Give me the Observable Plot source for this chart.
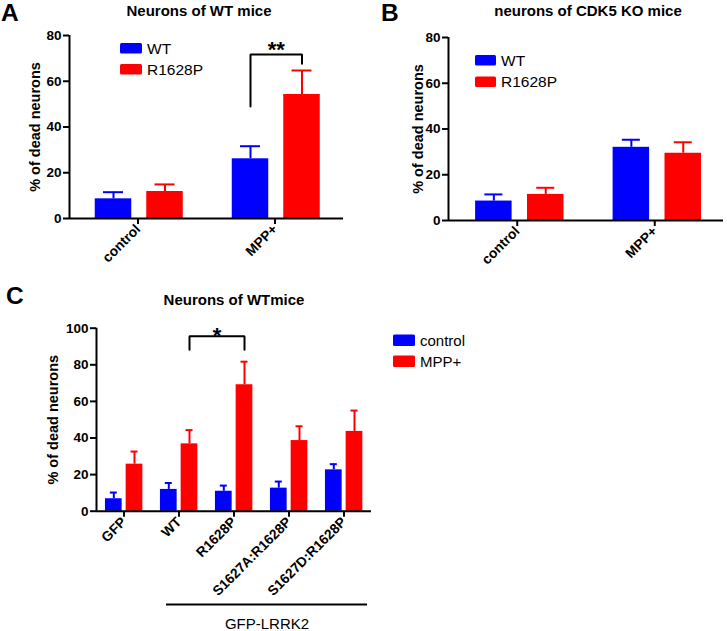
<!DOCTYPE html>
<html><head><meta charset="utf-8">
<script src="https://cdn.jsdelivr.net/npm/d3@7"></script>
<script src="https://cdn.jsdelivr.net/npm/@observablehq/plot@0.6"></script>
<style>
body{margin:0;background:#fff;}
#root{position:relative;width:727px;height:631px;overflow:hidden;background:#fff;font-family:"Liberation Sans",Arial,sans-serif;}
.panel{position:absolute;}
.panel svg{overflow:visible;display:block;}
#overlay{position:absolute;left:0;top:0;pointer-events:none;}
</style></head><body><div id="root"></div>
<script>
const BLUE = "#0000ff", RED = "#ff0000";

// ---- Panel A: Neurons of WT mice
const groupsA = ["control", "MPP+"];
const seriesA = ["WT", "R1628P"];
const meanA_WT = [8.6, 26.1];
const semA_WT  = [2.9, 5.5];
const meanA_R  = [11.8, 54.2];
const semA_R   = [3.1, 10.5];
const sigA = {from: ["MPP+", "WT"], to: ["MPP+", "R1628P"], yTop: 71.7, yFrom: 49.0, yTo: 67.6, label: "**", labelY: 73.8};

// ---- Panel B: neurons of CDK5 KO mice
const groupsB = ["control", "MPP+"];
const seriesB = ["WT", "R1628P"];
const meanB_WT = [8.5, 32.0];
const semB_WT  = [2.9, 3.3];
const meanB_R  = [11.4, 29.4];
const semB_R   = [2.9, 4.8];

// ---- Panel C: Neurons of WTmice
const groupsC = ["GFP", "WT", "R1628P", "S1627A:R1628P", "S1627D:R1628P"];
const seriesC = ["control", "MPP+"];
const meanC_ctrl = [6.8, 11.9, 10.9, 12.6, 22.6];
const semC_ctrl  = [3.4, 3.5, 3.1, 3.6, 3.1];
const meanC_mpp  = [25.7, 36.8, 69.1, 38.6, 43.6];
const semC_mpp   = [6.9, 7.5, 12.6, 7.8, 11.4];
const sigC = {from: ["WT", "MPP+"], to: ["R1628P", "MPP+"], yTop: 95.6, yFrom: 88.2, yTo: 88.2, label: "*", labelY: 95.6};
const spanC = {from: "WT", to: "S1627D:R1628P", label: "GFP-LRRK2"};

const yTicksAB = [0, 20, 40, 60, 80];
const yTicksC  = [0, 20, 40, 60, 80, 100];
const yLabel = "% of dead neurons";

const FONT = "'Liberation Sans', Arial, sans-serif";

function makePanel(cfg) {
  const n = cfg.groups.length;
  const step = (cfg.width - cfg.ml - cfg.mr) / n;
  const u = px => px / step;
  const marks = [];
  const centerOf = (g, s) => cfg.groups.indexOf(g) + u(cfg.centers[cfg.series.indexOf(s)]);
  cfg.series.forEach((s, k) => {
    const rows = cfg.groups.map((g, i) => ({i, g, mean: cfg.means[k][i], sem: cfg.sems[k][i]}));
    const cx = d => d.i + u(cfg.centers[k]);
    marks.push(
      Plot.rectY(rows, {x1: d => cx(d) - u(cfg.barW / 2), x2: d => cx(d) + u(cfg.barW / 2), y1: 0, y2: "mean", fill: cfg.colors[k]}),
      Plot.ruleX(rows, {x: cx, y1: "mean", y2: d => d.mean + d.sem, stroke: cfg.colors[k], strokeWidth: 2}),
      Plot.ruleY(rows, {y: d => d.mean + d.sem, x1: d => cx(d) - u(cfg.capW / 2), x2: d => cx(d) + u(cfg.capW / 2), stroke: cfg.colors[k], strokeWidth: 2})
    );
  });
  // axis lines
  marks.push(
    Plot.ruleY([0], {strokeWidth: 2}),
    Plot.ruleX([-0.5], {y1: 0, y2: cfg.yMax, strokeWidth: 2}),
    Plot.axisY({ticks: cfg.yTicks, tickSize: 6, tickPadding: 2, strokeWidth: 2, fontWeight: "bold", fontSize: 13.5, label: null}),
    Plot.axisX({ticks: d3.range(n), tickFormat: i => cfg.groups[i], tickSize: 6, tickPadding: 2.5, tickRotate: -45, strokeWidth: 2, fontWeight: "bold", fontSize: 13.8, label: null}),
    Plot.text([yLabel], {frameAnchor: "left", textAnchor: "middle", rotate: -90, dx: cfg.labelDx, fontWeight: "bold", fontSize: 14.5, text: d => d})
  );
  if (cfg.sig) {
    const b = cfg.sig;
    const xl = centerOf(b.from[0], b.from[1]);
    const xr = centerOf(b.to[0], b.to[1]);
    const pts = [{x: xl, y: b.yFrom}, {x: xl, y: b.yTop}, {x: xr, y: b.yTop}, {x: xr, y: b.yTo}];
    marks.push(
      Plot.line(pts, {x: "x", y: "y", stroke: "black", strokeWidth: 2, strokeLinejoin: "miter"}),
      Plot.text([b], {x: (xl + xr) / 2, y: "labelY", text: "label", fontSize: 22, fontWeight: "bold"})
    );
  }
  if (cfg.span) {
    const sp = cfg.span;
    const x1 = cfg.groups.indexOf(sp.from) - 0.5 + u(15);
    const x2 = cfg.groups.indexOf(sp.to) + 0.5 - u(4);
    marks.push(
      Plot.ruleY([sp], {y: 0, dy: 93.3, x1: () => x1, x2: () => x2, strokeWidth: 2.2}),
      Plot.text([sp], {x: () => (x1 + x2) / 2, y: 0, dy: 112.5, text: "label", fontSize: 15})
    );
  }
  const chart = Plot.plot({
    width: cfg.width, height: cfg.height,
    marginLeft: cfg.ml, marginRight: cfg.mr, marginTop: cfg.mt, marginBottom: cfg.mb,
    x: {domain: [-0.5, n - 0.5]},
    y: {domain: [0, cfg.yMax]},
    style: {fontFamily: FONT, color: "black", background: "transparent", overflow: "visible"},
    marks
  });
  const div = document.createElement("div");
  div.className = "panel";
  div.style.left = cfg.left + "px";
  div.style.top = cfg.top + "px";
  div.style.width = cfg.width + "px";
  div.style.height = cfg.height + "px";
  div.appendChild(chart);
  document.getElementById("root").appendChild(div);
}

makePanel({
  left: 0, top: 0, width: 360, height: 270, ml: 69, mr: 17, mt: 35, mb: 52,
  groups: groupsA, series: seriesA, means: [meanA_WT, meanA_R], sems: [semA_WT, semA_R],
  colors: [BLUE, RED], centers: [-24.5, 27], barW: 36.5, capW: 20,
  yMax: 80, yTicks: yTicksAB, labelDx: -34, sig: sigA
});
makePanel({
  left: 360, top: 0, width: 367, height: 270, ml: 88, mr: 4, mt: 37, mb: 50,
  groups: groupsB, series: seriesB, means: [meanB_WT, meanB_R], sems: [semB_WT, semB_R],
  colors: [BLUE, RED], centers: [-23.4, 28.5], barW: 36.5, capW: 18,
  yMax: 80, yTicks: yTicksAB, labelDx: -30.5
});
makePanel({
  left: 0, top: 270, width: 390, height: 361, ml: 96, mr: 19, mt: 57.7, mb: 120.3,
  groups: groupsC, series: seriesC, means: [meanC_ctrl, meanC_mpp], sems: [semC_ctrl, semC_mpp],
  colors: [BLUE, RED], centers: [-10.2, 10.5], barW: 16.7, capW: 7,
  yMax: 100, yTicks: yTicksC, labelDx: -43, sig: sigC, span: spanC
});

// ---- overlay: panel letters, titles, legends
const ov = d3.select("#root").append("svg").attr("id", "overlay")
  .attr("width", 727).attr("height", 631).style("font-family", FONT);
const letters = [["A", 1, 21], ["B", 381, 21], ["C", 6, 304]];
letters.forEach(([t, x, y]) => ov.append("text").attr("x", x).attr("y", y)
  .attr("font-size", 24.5).attr("font-weight", "bold").text(t));
const titles = [["Neurons of WT mice", 199, 15.5], ["neurons of CDK5 KO mice", 588, 15.5], ["Neurons of WTmice", 234, 305]];
titles.forEach(([t, x, y]) => ov.append("text").attr("x", x).attr("y", y)
  .attr("text-anchor", "middle").attr("font-size", 15).attr("font-weight", "bold").text(t));
function legend(labels, colors, x, y0, gap, boxW, boxH, fs) {
  labels.forEach((lab, k) => {
    const y = y0 + k * gap;
    ov.append("rect").attr("x", x).attr("y", y - boxH).attr("width", boxW).attr("height", boxH)
      .attr("rx", 1.5).attr("fill", colors[k]);
    ov.append("text").attr("x", x + boxW + 5).attr("y", y).attr("font-size", fs).text(lab);
  });
}
legend(seriesA, [BLUE, RED], 120, 53.5, 21, 22, 10.5, 15.5);
legend(seriesB, [BLUE, RED], 475, 65.5, 21.5, 21, 10.5, 15.5);
legend(seriesC, [BLUE, RED], 393, 346, 21, 22, 11.5, 15);
</script>
</body></html>
